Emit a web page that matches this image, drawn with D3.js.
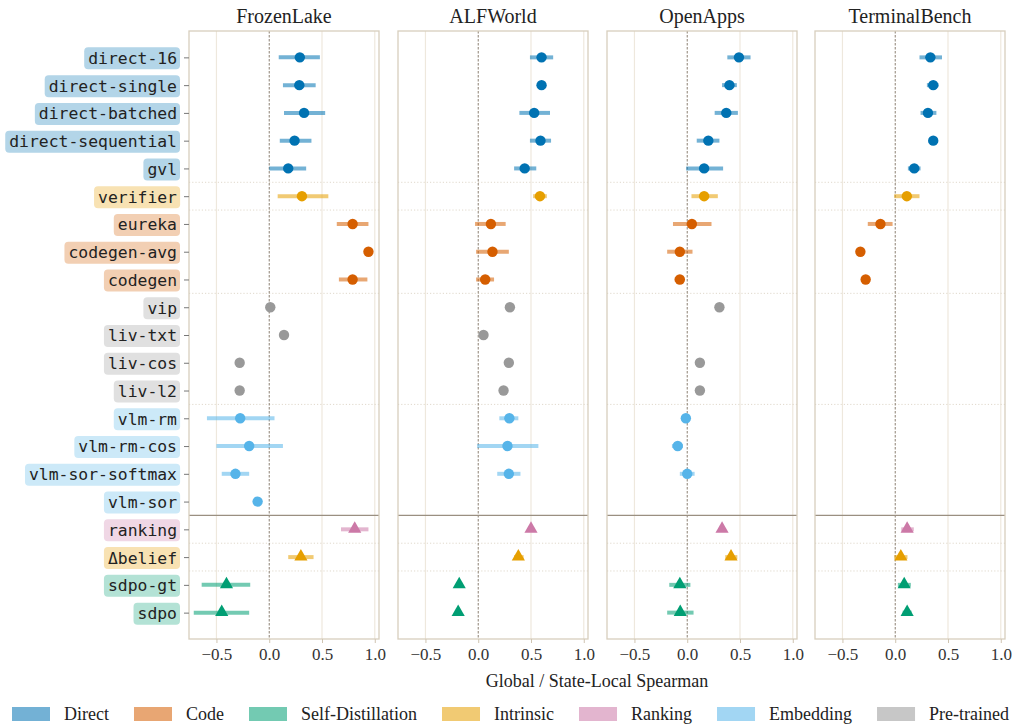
<!DOCTYPE html>
<html lang="en">
<head>
<meta charset="UTF-8">
<title>spearman panels</title>
<script src="https://cdn.jsdelivr.net/npm/d3@7"></script>
<style>
  body { margin: 0; background: #fff; }
</style>
</head>
<body>
<script>
// rows, top to bottom
const methods = ["direct-16", "direct-single", "direct-batched", "direct-sequential", "gvl",
  "verifier", "eureka", "codegen-avg", "codegen", "vip", "liv-txt", "liv-cos", "liv-l2",
  "vlm-rm", "vlm-rm-cos", "vlm-sor-softmax", "vlm-sor", "ranking", "Δbelief", "sdpo-gt", "sdpo"];
const groups = ["Direct", "Direct", "Direct", "Direct", "Direct", "Intrinsic", "Code", "Code", "Code",
  "Pre-trained", "Pre-trained", "Pre-trained", "Pre-trained", "Embedding", "Embedding", "Embedding",
  "Embedding", "Ranking", "Intrinsic", "Self-Distillation", "Self-Distillation"];
const triangleFrom = 17; // ranking and below are drawn as triangles

const benchmarks = ["FrozenLake", "ALFWorld", "OpenApps", "TerminalBench"];

// [mean, low, high], null = not evaluated
const frozenLake = [
  [0.29, 0.09, 0.48], [0.285, 0.13, 0.44], [0.33, 0.14, 0.53], [0.24, 0.10, 0.40], [0.18, 0.0, 0.35],
  [0.31, 0.08, 0.56], [0.79, 0.64, 0.94], [0.94, 0.90, 0.98], [0.79, 0.66, 0.93],
  [0.01], [0.14], [-0.28], [-0.28],
  [-0.275, -0.59, 0.05], [-0.19, -0.50, 0.13], [-0.32, -0.45, -0.19], [-0.11],
  [0.81, 0.68, 0.94], [0.30, 0.18, 0.42], [-0.405, -0.64, -0.18], [-0.45, -0.715, -0.19]
];
const alfWorld = [
  [0.60, 0.49, 0.71], [0.60, 0.57, 0.63], [0.53, 0.39, 0.68], [0.59, 0.49, 0.69], [0.44, 0.34, 0.55],
  [0.585, 0.52, 0.65], [0.12, -0.03, 0.26], [0.135, -0.02, 0.29], [0.066, -0.02, 0.15],
  [0.30], [0.05], [0.29], [0.24],
  [0.295, 0.20, 0.38], [0.277, -0.01, 0.57], [0.29, 0.18, 0.40], null,
  [0.50, 0.48, 0.52], [0.38, 0.34, 0.43], [-0.18, -0.20, -0.16], [-0.19, -0.21, -0.17]
];
const openApps = [
  [0.49, 0.38, 0.60], [0.40, 0.33, 0.47], [0.37, 0.26, 0.48], [0.20, 0.09, 0.305], [0.16, -0.01, 0.34],
  [0.16, 0.04, 0.29], [0.044, -0.135, 0.23], [-0.07, -0.19, 0.05], [-0.07, -0.12, -0.03],
  [0.305], null, [0.12], [0.12],
  [-0.013, -0.03, 0.005], [-0.09, -0.145, -0.04], [0.0, -0.07, 0.07], null,
  [0.33, 0.31, 0.35], [0.415, 0.36, 0.475], [-0.07, -0.17, 0.03], [-0.066, -0.19, 0.06]
];
const terminalBench = [
  [0.333, 0.23, 0.443], [0.36, 0.30, 0.41], [0.31, 0.24, 0.39], [0.36, 0.33, 0.40], [0.18, 0.12, 0.24],
  [0.11, -0.01, 0.23], [-0.14, -0.26, -0.025], [-0.33], [-0.28],
  null, null, null, null,
  null, null, null, null,
  [0.113, 0.057, 0.176], [0.053, -0.01, 0.116], [0.085, 0.025, 0.148], [0.113, 0.07, 0.155]
];
const panelData = [frozenLake, alfWorld, openApps, terminalBench];

const xTicks = [-0.5, 0, 0.5, 1.0];
const legendOrder = ["Direct", "Code", "Self-Distillation", "Intrinsic", "Ranking", "Embedding", "Pre-trained"];
const groupColor = {
  "Direct": "#0072B2", "Code": "#D55E00", "Self-Distillation": "#009E73", "Intrinsic": "#E69F00",
  "Ranking": "#CC79A7", "Embedding": "#56B4E9", "Pre-trained": "#999999"
};
const dottedAfter = [4, 5, 8, 12, 17, 18]; // light dotted separators below these rows
const solidAfter = 16;

const width = 1013, height = 727;
const panelLeft = [189, 398, 607, 815];
const panelW = 190, plotTop = 31, plotBottom = 639;
const serif = "'Liberation Serif', 'Times New Roman', serif";

// blend a colour with white
function tint(c, a) {
  const k = d3.rgb(c);
  return d3.rgb(k.r * a + 255 * (1 - a), k.g * a + 255 * (1 - a), k.b * a + 255 * (1 - a)).formatHex();
}

const svg = d3.select("body").append("svg")
  .attr("width", width)
  .attr("height", height)
  .attr("viewBox", [0, 0, width, height]);

const y = d3.scaleLinear().domain([-0.95, 20.95]).range([plotTop, plotBottom]);

panelData.forEach((data, p) => {
  const x = d3.scaleLinear().domain([-0.76, 1.04]).range([panelLeft[p], panelLeft[p] + panelW]);
  const g = svg.append("g");

  // grid
  g.selectAll("line.grid").data(xTicks.filter(t => t !== 0)).join("line")
    .attr("x1", d => x(d)).attr("x2", d => x(d))
    .attr("y1", plotTop).attr("y2", plotBottom)
    .attr("stroke", "#eee8dd").attr("stroke-width", 1.2);

  g.selectAll("line.sep").data(dottedAfter).join("line")
    .attr("x1", x.range()[0]).attr("x2", x.range()[1])
    .attr("y1", d => y(d + 0.5)).attr("y2", d => y(d + 0.5))
    .attr("stroke", "#ddd5c6").attr("stroke-width", 0.9)
    .attr("stroke-dasharray", "1.2,2");

  g.append("line")
    .attr("x1", x(0)).attr("x2", x(0))
    .attr("y1", plotTop).attr("y2", plotBottom)
    .attr("stroke", "#8c8072").attr("stroke-width", 1)
    .attr("stroke-dasharray", "2.5,1.5");

  g.append("line")
    .attr("x1", x.range()[0]).attr("x2", x.range()[1])
    .attr("y1", y(solidAfter + 0.5)).attr("y2", y(solidAfter + 0.5))
    .attr("stroke", "#9a8f81").attr("stroke-width", 1.3);

  const rows = data.map((d, i) => ({ d, i })).filter(r => r.d);

  // error bars
  g.selectAll("line.err").data(rows.filter(r => r.d.length === 3)).join("line")
    .attr("x1", r => x(r.d[1])).attr("x2", r => x(r.d[2]))
    .attr("y1", r => y(r.i)).attr("y2", r => y(r.i))
    .attr("stroke", r => groupColor[groups[r.i]])
    .attr("stroke-opacity", 0.55)
    .attr("stroke-width", 4);

  // means
  g.selectAll("circle.pt").data(rows.filter(r => r.i < triangleFrom)).join("circle")
    .attr("cx", r => x(r.d[0])).attr("cy", r => y(r.i))
    .attr("r", 5.2)
    .attr("fill", r => groupColor[groups[r.i]]);

  const tri = d3.symbol().type(d3.symbolTriangle).size(75);
  g.selectAll("path.pt").data(rows.filter(r => r.i >= triangleFrom)).join("path")
    .attr("d", tri)
    .attr("transform", r => `translate(${x(r.d[0])},${y(r.i) - 0.5})`)
    .attr("fill", r => groupColor[groups[r.i]]);

  // frame
  g.append("rect")
    .attr("x", x.range()[0]).attr("y", plotTop)
    .attr("width", panelW).attr("height", plotBottom - plotTop)
    .attr("fill", "none").attr("stroke", "#d8cebd").attr("stroke-width", 1.3);

  // x axis
  const ax = g.append("g")
    .attr("transform", `translate(0,${plotBottom})`)
    .call(d3.axisBottom(x).tickValues(xTicks).tickSize(4).tickPadding(5).tickFormat(d3.format(".1f")));
  ax.select(".domain").remove();
  ax.selectAll(".tick line").attr("stroke", "#cfc4b1");
  ax.selectAll(".tick text")
    .attr("font-family", serif).attr("font-size", 17).attr("fill", "#333");

  // title
  g.append("text")
    .attr("x", x.range()[0] + panelW / 2).attr("y", 23)
    .attr("text-anchor", "middle")
    .attr("font-family", serif).attr("font-size", 20).attr("fill", "#222")
    .text(benchmarks[p]);

  // method labels on the first panel
  if (p === 0) {
    const ay = g.append("g")
      .attr("transform", `translate(${panelLeft[0]},0)`)
      .call(d3.axisLeft(y).tickValues(d3.range(methods.length)).tickSize(5).tickPadding(7)
        .tickFormat(i => methods[i]));
    ay.select(".domain").remove();
    ay.selectAll(".tick line").attr("stroke", "#777");
    ay.selectAll(".tick text")
      .attr("font-family", "'DejaVu Sans Mono', monospace")
      .attr("font-size", 16.4).attr("fill", "#222")
      .attr("dy", "0.36em");
    ay.selectAll(".tick").each(function (i) {
      const t = d3.select(this).select("text");
      const b = t.node().getBBox();
      d3.select(this).insert("rect", "text")
        .attr("x", b.x - 4).attr("y", -10.5)
        .attr("width", b.width + 7).attr("height", 22)
        .attr("rx", 4)
        .attr("fill", tint(groupColor[groups[i]], 0.3));
    });
  }
});

// x label
svg.append("text")
  .attr("x", (panelLeft[0] + panelLeft[3] + panelW) / 2).attr("y", 687)
  .attr("text-anchor", "middle")
  .attr("font-family", serif).attr("font-size", 18).attr("fill", "#222")
  .text("Global / State-Local Spearman");

// legend
const leg = svg.append("g");
const items = leg.selectAll("g").data(legendOrder).join("g");
items.append("rect")
  .attr("width", 38).attr("height", 14)
  .attr("fill", d => tint(groupColor[d], 0.55));
items.append("text")
  .attr("x", 52).attr("y", 13)
  .attr("font-family", serif).attr("font-size", 18).attr("fill", "#222")
  .text(d => d);
const widths = [];
items.each(function () { widths.push(52 + d3.select(this).select("text").node().getComputedTextLength()); });
const legStart = 12, legEnd = 1009;
const gap = (legEnd - legStart - d3.sum(widths)) / (widths.length - 1);
let cx = legStart;
items.attr("transform", (d, i) => {
  const t = `translate(${cx},707)`;
  cx += widths[i] + gap;
  return t;
});
</script>
</body>
</html>
